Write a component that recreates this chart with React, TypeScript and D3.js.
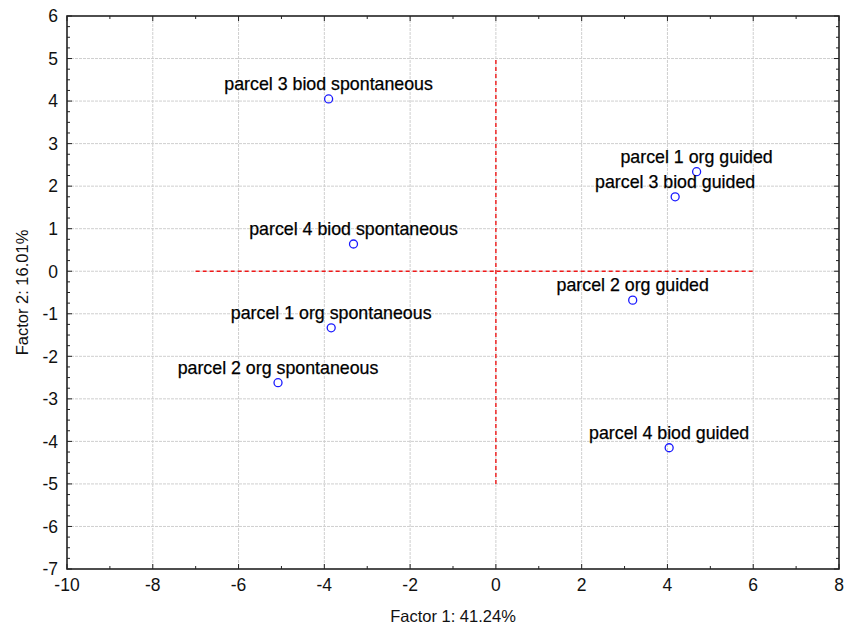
import React, { useEffect, useRef } from "react";
import * as d3 from "d3";

// factor scores
const labels = [
  "parcel 3 biod spontaneous",
  "parcel 1 org guided",
  "parcel 3 biod guided",
  "parcel 4 biod spontaneous",
  "parcel 2 org guided",
  "parcel 1 org spontaneous",
  "parcel 2 org spontaneous",
  "parcel 4 biod guided",
];
const factor1 = [-3.9, 4.68, 4.18, -3.32, 3.19, -3.84, -5.08, 4.04];
const factor2 = [4.05, 2.34, 1.75, 0.64, -0.68, -1.33, -2.62, -4.15];

const xTicks = [-10, -8, -6, -4, -2, 0, 2, 4, 6, 8];
const yTicks = [6, 5, 4, 3, 2, 1, 0, -1, -2, -3, -4, -5, -6, -7];
const xTitle = "Factor 1: 41.24%";
const yTitle = "Factor 2: 16.01%";

// red reference lines through the origin
const hLine = { x0: -7, x1: 6, y: 0 };
const vLine = { x: 0, y0: -5, y1: 5 };

const fullWidth = 851;
const fullHeight = 627;
const margin = { top: 16, right: 12, bottom: 58, left: 67 };
const font = "Arial, 'Liberation Sans', sans-serif";

export default function App() {
  const ref = useRef<SVGSVGElement | null>(null);

  useEffect(() => {
    const svg = d3.select(ref.current);
    svg.selectAll("*").remove();

    const width = fullWidth - margin.left - margin.right;
    const height = fullHeight - margin.top - margin.bottom;

    const g = svg
      .append("g")
      .attr("transform", `translate(${margin.left},${margin.top})`);

    const x = d3.scaleLinear().domain([-10, 8]).range([0, width]);
    const y = d3.scaleLinear().domain([-7, 6]).range([height, 0]);

    // grid
    g.append("g")
      .selectAll("line")
      .data(xTicks.slice(1, -1))
      .enter()
      .append("line")
      .attr("x1", (d) => x(d))
      .attr("x2", (d) => x(d))
      .attr("y1", 0)
      .attr("y2", height)
      .attr("stroke", "#cfcfcf")
      .attr("stroke-width", 1)
      .attr("stroke-dasharray", "3,1");
    g.append("g")
      .selectAll("line")
      .data(yTicks.slice(1, -1))
      .enter()
      .append("line")
      .attr("x1", 0)
      .attr("x2", width)
      .attr("y1", (d) => y(d))
      .attr("y2", (d) => y(d))
      .attr("stroke", "#cfcfcf")
      .attr("stroke-width", 1)
      .attr("stroke-dasharray", "3,1");

    // red dashed lines
    g.append("line")
      .attr("x1", x(hLine.x0))
      .attr("x2", x(hLine.x1))
      .attr("y1", y(hLine.y))
      .attr("y2", y(hLine.y))
      .attr("stroke", "#f01818")
      .attr("stroke-width", 1.4)
      .attr("stroke-dasharray", "4,3");
    g.append("line")
      .attr("x1", x(vLine.x))
      .attr("x2", x(vLine.x))
      .attr("y1", y(vLine.y0))
      .attr("y2", y(vLine.y1))
      .attr("stroke", "#f01818")
      .attr("stroke-width", 1.4)
      .attr("stroke-dasharray", "4,3");

    // inward ticks on all four sides
    const xMinor = d3.range(-10, 8.01, 1);
    const yMinor = d3.range(-7, 6.01, 0.25);
    const tickG = g.append("g").attr("stroke", "#222").attr("stroke-width", 1);
    xMinor.forEach((v) => {
      const len = Math.abs(v % 2) < 1e-6 ? 5 : 3;
      tickG.append("line").attr("x1", x(v)).attr("x2", x(v)).attr("y1", height).attr("y2", height - len);
      tickG.append("line").attr("x1", x(v)).attr("x2", x(v)).attr("y1", 0).attr("y2", len);
    });
    yMinor.forEach((v) => {
      const len = Math.abs(v % 1) < 1e-6 ? 5 : 3;
      tickG.append("line").attr("x1", 0).attr("x2", len).attr("y1", y(v)).attr("y2", y(v));
      tickG.append("line").attr("x1", width).attr("x2", width - len).attr("y1", y(v)).attr("y2", y(v));
    });

    // frame
    g.append("rect")
      .attr("x", 0)
      .attr("y", 0)
      .attr("width", width)
      .attr("height", height)
      .attr("fill", "none")
      .attr("stroke", "#222")
      .attr("stroke-width", 1.6);

    // tick labels
    g.append("g")
      .selectAll("text")
      .data(xTicks)
      .enter()
      .append("text")
      .attr("x", (d) => x(d))
      .attr("y", height + 22)
      .attr("text-anchor", "middle")
      .attr("font-family", font)
      .attr("font-size", 17.5)
      .attr("fill", "#111")
      .text((d) => String(d));
    g.append("g")
      .selectAll("text")
      .data(yTicks)
      .enter()
      .append("text")
      .attr("x", -9)
      .attr("y", (d) => y(d))
      .attr("dy", "0.36em")
      .attr("text-anchor", "end")
      .attr("font-family", font)
      .attr("font-size", 17.5)
      .attr("fill", "#111")
      .text((d) => String(d));

    // axis titles
    svg
      .append("text")
      .attr("x", margin.left + width / 2)
      .attr("y", 622)
      .attr("text-anchor", "middle")
      .attr("font-family", font)
      .attr("font-size", 16.5)
      .attr("fill", "#111")
      .text(xTitle);
    svg
      .append("text")
      .attr("transform", `translate(28,${margin.top + height / 2}) rotate(-90)`)
      .attr("text-anchor", "middle")
      .attr("font-family", font)
      .attr("font-size", 16.5)
      .attr("fill", "#111")
      .text(yTitle);

    // points and labels
    const data = labels.map((name, i) => ({ name, f1: factor1[i], f2: factor2[i] }));
    const pts = g.append("g");
    pts
      .selectAll("circle")
      .data(data)
      .enter()
      .append("circle")
      .attr("cx", (d) => x(d.f1))
      .attr("cy", (d) => y(d.f2))
      .attr("r", 4)
      .attr("fill", "none")
      .attr("stroke", "#1a1aff")
      .attr("stroke-width", 1.3);
    pts
      .selectAll("text")
      .data(data)
      .enter()
      .append("text")
      .attr("x", (d) => x(d.f1))
      .attr("y", (d) => y(d.f2) - 9)
      .attr("text-anchor", "middle")
      .attr("font-family", font)
      .attr("font-size", 17.8)
      .attr("fill", "#000")
      .attr("stroke", "#000")
      .attr("stroke-width", 0.25)
      .text((d) => d.name);
  }, []);

  return (
    <svg
      ref={ref}
      width={fullWidth}
      height={fullHeight}
      style={{ position: "absolute", left: 0, top: 0, background: "#fff" }}
    />
  );
}
